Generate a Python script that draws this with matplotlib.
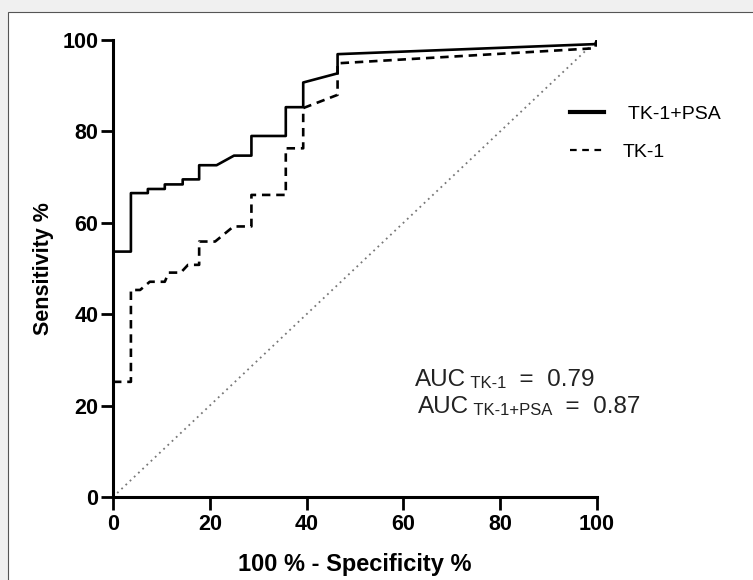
import matplotlib
matplotlib.use('Agg')
import matplotlib.pyplot as plt
from matplotlib.lines import Line2D
from matplotlib.patches import Rectangle

plt.rcParams['font.family'] = ['Liberation Sans', 'DejaVu Sans']

# ROC curves: 100 - specificity (%) vs sensitivity (%)
fpr_combo = [0, 3.7, 3.7, 7.2, 7.2, 10.7, 10.7, 14.4, 14.4, 17.8, 17.8, 21.4, 25.0,
             28.6, 28.6, 35.7, 35.7, 39.3, 39.3, 46.4, 46.4, 99.6, 100]
tpr_combo = [53.7, 53.7, 66.5, 66.5, 67.4, 67.4, 68.4, 68.4, 69.5, 69.5, 72.6, 72.6, 74.7,
             74.7, 79.0, 79.0, 85.3, 85.3, 90.7, 92.7, 96.9, 99.1, 100]

fpr_tk1 = [0, 3.7, 3.7, 5.6, 7.6, 10.7, 11.5, 14.0, 15.5, 17.8, 17.8, 21.1, 24.9,
           28.6, 28.6, 35.7, 35.7, 39.3, 39.3, 46.4, 46.4, 99.6, 100]
tpr_tk1 = [25.2, 25.2, 45.3, 45.3, 47.1, 47.1, 49.1, 49.1, 50.8, 50.8, 55.9, 55.9, 59.2,
           59.2, 66.1, 66.1, 76.3, 76.3, 85.1, 88.0, 94.9, 98.2, 100]

ticks = [0, 20, 40, 60, 80, 100]
auc_tk1 = 0.79
auc_combo = 0.87

fig = plt.figure(figsize=(7.53, 5.80), dpi=100)
fig.patch.set_facecolor('#f0f0f0')
# white panel with a thin border, open to the right and bottom
fig.patches.append(Rectangle((8 / 753, -0.05), 1.0, 1 - 12 / 580 + 0.05,
                             transform=fig.transFigure, facecolor='white',
                             edgecolor='#555555', linewidth=0.8, zorder=-5))

ax = fig.add_axes([113 / 753, 1 - 497 / 580, 484 / 753, 457 / 580])
ax.set_facecolor('none')
ax.set_zorder(2)

# chance line
ax.plot([0, 100], [0, 100], color='#777777', linestyle=(0, (1, 2.2)), linewidth=1.3)
ax.plot(fpr_tk1, tpr_tk1, color='black', linestyle=(0, (3.2, 2.2)), linewidth=1.9)
ax.plot(fpr_combo, tpr_combo, color='black', linewidth=1.9)

ax.set_xlim(0, 100)
ax.set_ylim(0, 100)
ax.set_xticks(ticks)
ax.set_yticks(ticks)
for s in ['top', 'right']:
    ax.spines[s].set_visible(False)
for s in ['left', 'bottom']:
    ax.spines[s].set_linewidth(2.2)
ax.tick_params(width=2.0, length=9, pad=1.5)
ax.tick_params(axis='x', pad=3)
for lbl in ax.get_xticklabels() + ax.get_yticklabels():
    lbl.set_fontweight('bold')
    lbl.set_fontsize(15.5)

ax.set_xlabel('100 % - Specificity %', fontsize=17, fontweight='bold', labelpad=13)
ax.set_ylabel('Sensitivity %', fontsize=15.5, fontweight='bold', labelpad=6)

# legend
handles = [Line2D([], [], color='black', linewidth=3.0),
           Line2D([], [], color='black', linewidth=1.6, linestyle=(0, (3, 2.5)))]
ax.legend(handles, [' TK-1+PSA', 'TK-1'], loc='upper left',
          bbox_to_anchor=(552 / 753, 1 - 88 / 580), bbox_transform=fig.transFigure,
          frameon=False, fontsize=14, handlelength=1.75, handletextpad=1.0,
          labelspacing=1.05)

# AUC annotations with small-caps style subscript names
t1 = ax.text(415 / 753, 1 - 386 / 580, 'AUC', transform=fig.transFigure,
             fontsize=17.5, va='baseline', color='#222222')
t2 = ax.annotate(' TK-1', xy=(1, 0), xycoords=t1, fontsize=12, va='bottom',
                 color='#222222')
ax.annotate(f'  =  {auc_tk1}', xy=(1, 0), xycoords=t2, fontsize=17.5, va='bottom',
            color='#222222')

t3 = ax.text(418 / 753, 1 - 413 / 580, 'AUC', transform=fig.transFigure,
             fontsize=17.5, va='baseline', color='#222222')
t4 = ax.annotate(' TK-1+PSA', xy=(1, 0), xycoords=t3, fontsize=12, va='bottom',
                 color='#222222')
ax.annotate(f'  =  {auc_combo}', xy=(1, 0), xycoords=t4, fontsize=17.5, va='bottom',
            color='#222222')

plt.savefig('out.png', dpi=100, facecolor=fig.get_facecolor())
